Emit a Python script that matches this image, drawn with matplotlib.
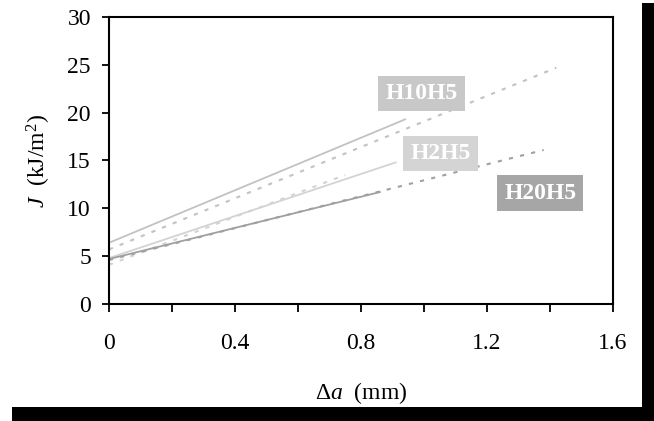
import glob
import matplotlib
matplotlib.use("Agg")
import matplotlib.pyplot as plt
from matplotlib import font_manager
from matplotlib.patches import Rectangle
from matplotlib.ticker import MultipleLocator, FuncFormatter

# make sure the Liberation Serif faces are registered
for path in glob.glob('/usr/share/fonts/**/LiberationSerif*.ttf', recursive=True):
    font_manager.fontManager.addfont(path)

plt.rcParams['font.family'] = ['Liberation Serif', 'DejaVu Serif']
plt.rcParams['mathtext.fontset'] = 'custom'
plt.rcParams['mathtext.rm'] = 'Liberation Serif'
plt.rcParams['mathtext.it'] = 'Liberation Serif:italic'

# Crack growth resistance fits: solid = fit over measured range, dashed = extended fit
h10_solid_da = [0.0, 0.94]
h10_solid_j = [6.4, 19.3]
h10_dash_da = [0.0, 1.42]
h10_dash_j = [5.7, 24.7]

h2_solid_da = [0.0, 0.91]
h2_solid_j = [4.8, 14.8]
h2_dash_da = [0.0, 0.75]
h2_dash_j = [4.1, 13.5]

h20_solid_da = [0.0, 0.86]
h20_solid_j = [4.7, 11.7]
h20_dash_da = [0.0, 1.38]
h20_dash_j = [4.6, 16.1]

labels = ["H10H5", "H2H5", "H20H5"]
label_da = [0.992, 1.052, 1.369]
label_j = [22.0, 15.7, 11.6]

x_ticks = [0, 0.4, 0.8, 1.2, 1.6]
y_ticks = [0, 5, 10, 15, 20, 25, 30]

c_h10 = '#c2c2c2'
c_h2 = '#d3d3d3'
c_h20 = '#a0a0a0'
box_colors = ['#c8c8c8', '#d4d4d4', '#a6a6a6']

W, H = 654, 421
fig = plt.figure(figsize=(W / 100, H / 100), dpi=100)
fig.patch.set_facecolor('white')

# drop shadow along right and bottom edges
fig.patches.append(Rectangle((642 / W, 0), 12 / W, (H - 3) / H, transform=fig.transFigure,
                             facecolor='black', edgecolor='none', zorder=0))
fig.patches.append(Rectangle((12 / W, 0), (W - 12) / W, 14 / H, transform=fig.transFigure,
                             facecolor='black', edgecolor='none', zorder=0))

ax = fig.add_axes([109 / W, (H - 304) / H, 504 / W, 287 / H])
ax.set_facecolor('white')

dash = (0, (2.0, 3.5))
ax.plot(h10_dash_da, h10_dash_j, color=c_h10, lw=1.5, linestyle=dash)
ax.plot(h2_dash_da, h2_dash_j, color=c_h2, lw=1.5, linestyle=dash)
ax.plot(h20_dash_da, h20_dash_j, color=c_h20, lw=1.5, linestyle=dash)
ax.plot(h10_solid_da, h10_solid_j, color=c_h10, lw=1.3)
ax.plot(h2_solid_da, h2_solid_j, color=c_h2, lw=1.3)
ax.plot(h20_solid_da, h20_solid_j, color=c_h20, lw=1.3)

for txt, xd, yd, bc in zip(labels, label_da, label_j, box_colors):
    ax.text(xd, yd, txt, ha='center', va='center', color='white', fontsize=17,
            fontweight='bold',
            bbox=dict(boxstyle='square,pad=0.3', facecolor=bc, edgecolor='none'))

ax.set_xlim(0, 1.6)
ax.set_ylim(0, 30)
ax.set_xticks(x_ticks)
ax.set_yticks(y_ticks)
ax.xaxis.set_minor_locator(MultipleLocator(0.2))
ax.xaxis.set_major_formatter(FuncFormatter(lambda v, p: '0' if v == 0 else f'{v:.1f}'))

for s in ax.spines.values():
    s.set_linewidth(1.5)
    s.set_color('black')

ax.tick_params(axis='x', which='both', direction='out', length=6, width=1.3,
               labelsize=17, pad=15)
ax.tick_params(axis='y', which='major', direction='out', length=5, width=1.3,
               labelsize=17, pad=8)

ax.set_xlabel(r'$\Delta a$  (mm)', fontsize=17, labelpad=19)
fig.text(39 / W, 1 - 161 / H, r'$J$  (kJ/m$^2$)', rotation=90, ha='center',
         va='center', fontsize=17)

fig.savefig('out.png', dpi=100, facecolor='white')
